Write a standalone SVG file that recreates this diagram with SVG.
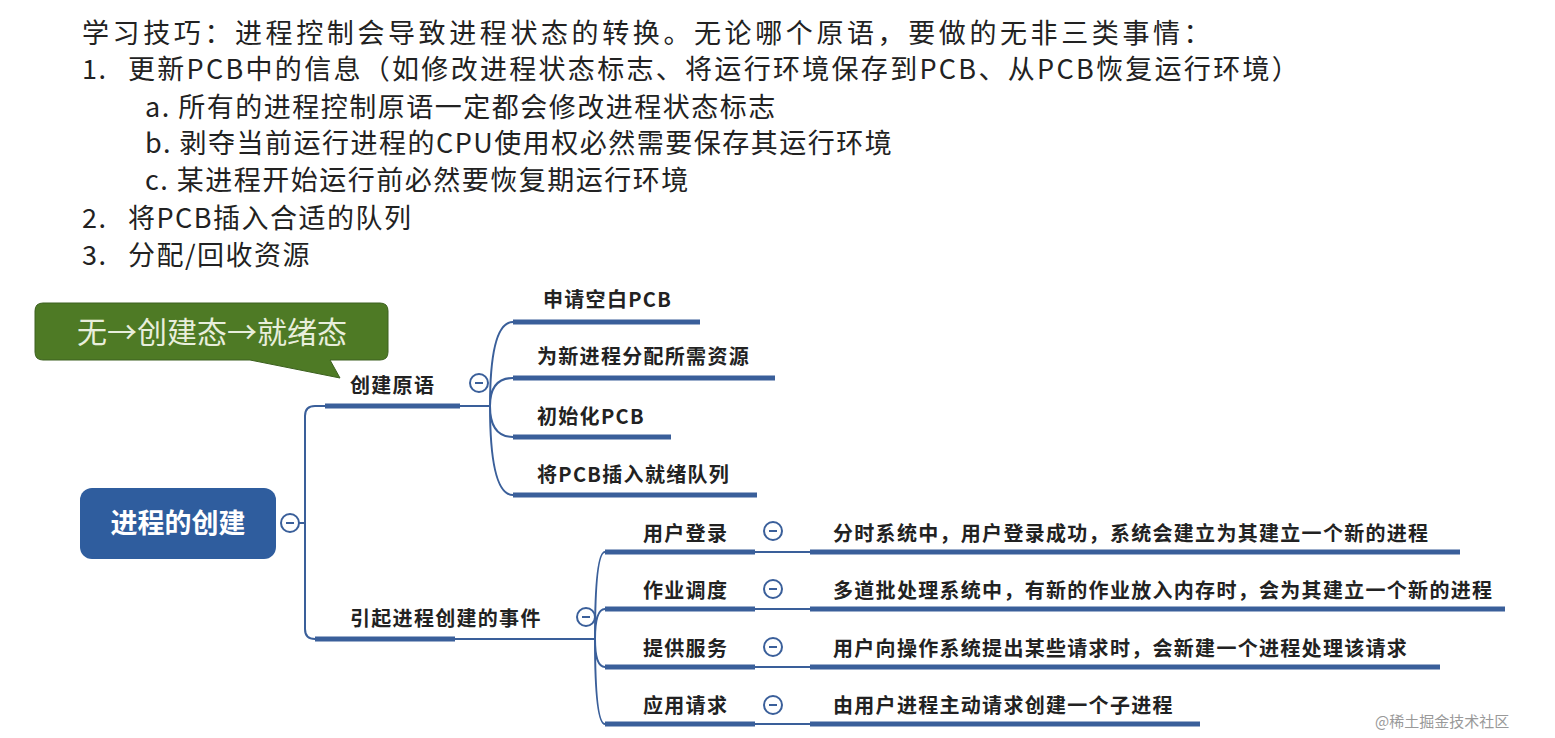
<svg xmlns="http://www.w3.org/2000/svg" width="1555" height="738" viewBox="0 0 1555 738">
<style>
.t{font-family:"Noto Sans CJK SC","Noto Sans",sans-serif;font-size:27px;letter-spacing:1.5px;fill:#222}
.n{font-family:"Noto Sans CJK SC","Noto Sans",sans-serif;font-size:20px;letter-spacing:1.3px;font-weight:bold;fill:#222}
.ul{stroke:#3a5f9a;stroke-width:5;fill:none}
.ln{stroke:#3a5f9a;stroke-width:2;fill:none}
.c{fill:#fff;stroke:#3a5f9a;stroke-width:2}
.m{stroke:#3a5f9a;stroke-width:2}
</style>
<rect width="1555" height="738" fill="#fff"/>
<g id="notes">
<text class="t" x="82" y="43" style="letter-spacing:3.6px">学习技巧：进程控制会导致进程状态的转换。无论哪个原语，要做的无非三类事情：</text>
<text class="t" x="82" y="79">1.</text><text class="t" x="128" y="79" style="letter-spacing:2.3px">更新PCB中的信息（如修改进程状态标志、将运行环境保存到PCB、从PCB恢复运行环境）</text>
<text class="t" x="145" y="117">a. 所有的进程控制原语一定都会修改进程状态标志</text>
<text class="t" x="145" y="153">b. 剥夺当前运行进程的CPU使用权必然需要保存其运行环境</text>
<text class="t" x="145" y="190">c. 某进程开始运行前必然要恢复期运行环境</text>
<text class="t" x="82" y="228">2.</text><text class="t" x="128" y="228">将PCB插入合适的队列</text>
<text class="t" x="82" y="265">3.</text><text class="t" x="128" y="265">分配/回收资源</text>
</g>
<g id="callout">
<path d="M43 303 H380 Q388 303 388 311 V352 Q388 360 380 360 H330 L340 378 L250 360 H43 Q35 360 35 352 V311 Q35 303 43 303 Z" fill="#4e7a25" stroke="#3d6120"/>
<text x="212" y="343" text-anchor="middle" font-family="Noto Sans CJK SC,sans-serif" font-size="30" fill="#e8eedc">无→创建态→就绪态</text>
</g>
<g id="connectors">
<path class="ln" d="M299 523 H305 M305 523 V416 Q305 406 315 406 H325 M305 523 V629 Q305 639 315 639"/>
<path class="ln" d="M460 406 H490 M490 406 Q490 322 513 322 M490 406 Q490 378 513 378 M490 406 Q490 437 513 437 M490 406 Q490 495 513 495"/>
<path class="ln" d="M455 639 H595 M595 639 Q595 552 605 552 M595 639 Q595 609 605 609 M595 639 Q595 667 605 667 M595 639 Q595 724 605 724"/>
<path class="ln" d="M755 552 H810 M755 609 H810 M755 667 H810 M755 724 H810"/>
</g>
<g id="root">
<rect x="80" y="488" width="196" height="71" rx="12" fill="#2f5d9e"/>
<text x="178" y="533" text-anchor="middle" font-family="Noto Sans CJK SC,sans-serif" font-size="27" font-weight="bold" fill="#fff">进程的创建</text>
<circle class="c" cx="290" cy="523" r="9"/><path class="m" d="M286 523 H294"/>
</g>
<g id="create">
<path class="ul" d="M325 406 H460"/>
<text class="n" x="350" y="393">创建原语</text>
<circle class="c" cx="479" cy="383" r="9"/><path class="m" d="M475 383 H483"/>
</g>
<g id="c1"><path class="ul" d="M513 322 H700"/><text class="n" x="543" y="307">申请空白PCB</text></g>
<g id="c2"><path class="ul" d="M513 378 H775"/><text class="n" x="537" y="364">为新进程分配所需资源</text></g>
<g id="c3"><path class="ul" d="M513 437 H671"/><text class="n" x="537" y="424">初始化PCB</text></g>
<g id="c4"><path class="ul" d="M513 495 H757"/><text class="n" x="537" y="482">将PCB插入就绪队列</text></g>
<g id="events">
<path class="ul" d="M315 639 H455"/>
<text class="n" x="350" y="626">引起进程创建的事件</text>
<circle class="c" cx="586" cy="617" r="9"/><path class="m" d="M582 617 H590"/>
</g>
<g id="e1"><path class="ul" d="M605 552 H755 M810 552 H1460"/><text class="n" x="643" y="541">用户登录</text><circle class="c" cx="773" cy="531" r="9"/><path class="m" d="M769 531 H777"/><text class="n" x="833" y="541">分时系统中，用户登录成功，系统会建立为其建立一个新的进程</text></g>
<g id="e2"><path class="ul" d="M605 609 H755 M810 609 H1505"/><text class="n" x="643" y="598">作业调度</text><circle class="c" cx="773" cy="589" r="9"/><path class="m" d="M769 589 H777"/><text class="n" x="833" y="598">多道批处理系统中，有新的作业放入内存时，会为其建立一个新的进程</text></g>
<g id="e3"><path class="ul" d="M605 667 H755 M810 667 H1440"/><text class="n" x="643" y="656">提供服务</text><circle class="c" cx="773" cy="647" r="9"/><path class="m" d="M769 647 H777"/><text class="n" x="833" y="656">用户向操作系统提出某些请求时，会新建一个进程处理该请求</text></g>
<g id="e4"><path class="ul" d="M605 724 H755 M810 724 H1200"/><text class="n" x="643" y="713">应用请求</text><circle class="c" cx="773" cy="705" r="9"/><path class="m" d="M769 705 H777"/><text class="n" x="833" y="713">由用户进程主动请求创建一个子进程</text></g>
<text x="1375" y="727" font-family="Noto Sans CJK SC,sans-serif" font-size="15" fill="#999">@稀土掘金技术社区</text>
</svg>
